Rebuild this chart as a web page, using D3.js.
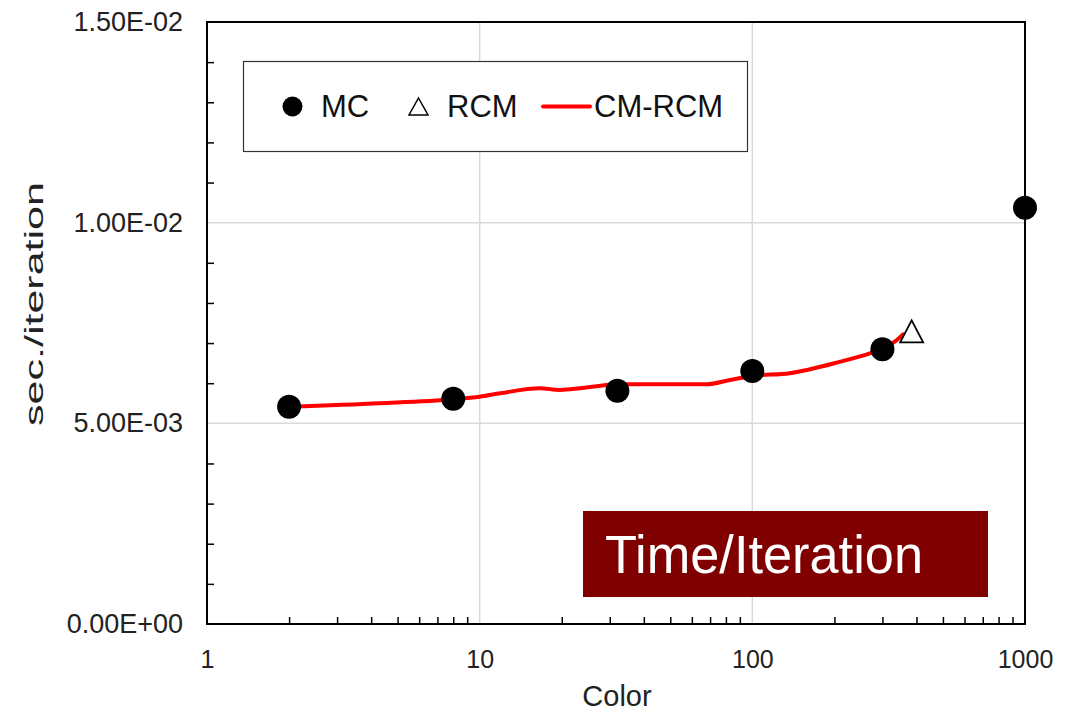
<!DOCTYPE html>
<html>
<head>
<meta charset="utf-8">
<script src="https://cdn.jsdelivr.net/npm/d3@7"></script>
<style>
  html, body { margin: 0; padding: 0; background: #fff; }
  svg { display: block; font-family: "Liberation Sans", Arial, Helvetica, sans-serif; }
</style>
</head>
<body>
<svg id="chart" width="1075" height="713"></svg>
<script>
// ---- data ----
const mcColors = [2, 8, 32, 100, 300, 1000];
const mcTimes  = [0.005415, 0.005614, 0.005813, 0.006304, 0.006845, 0.010373];

const rcmColors = [384];
const rcmTimes  = [0.00729];

const cmColors = [2, 4.3, 8, 10, 11.9, 16.6, 19.7, 23.3, 29.3, 32, 45.8, 68, 82.7, 100, 137, 210, 270, 300, 339, 357];
const cmTimes  = [0.005415, 0.005499, 0.005599, 0.005664, 0.005748, 0.005873, 0.005831, 0.005873, 0.005955, 0.005973,
                  0.005973, 0.005973, 0.006080, 0.006180, 0.006250, 0.006536, 0.006745, 0.006852, 0.007076, 0.007218];

const xTickValues = [1, 10, 100, 1000];
const yTickValues = [0, 0.005, 0.010, 0.015];
const legendLabels = ["MC", "RCM", "CM-RCM"];
const xTitle = "Color";
const yTitle = "sec./iteration";
const badgeText = "Time/Iteration";

// ---- layout ----
const svg = d3.select("#chart");
const L = 207, R = 1025, T = 22, B = 624;
const x = d3.scaleLog().domain([1, 1000]).range([L, R]);
const y = d3.scaleLinear().domain([0, 0.015]).range([B, T]);

function fmtE(v) {
  const [m, e] = v.toExponential(2).split("e");
  const sign = e[0] === "-" ? "-" : "+";
  const d = e.replace(/[+-]/, "").padStart(2, "0");
  return m + "E" + sign + d;
}

// gridlines
const grid = svg.append("g");
grid.selectAll("line.gx").data([10, 100]).join("line")
  .attr("x1", d => x(d)).attr("x2", d => x(d)).attr("y1", T).attr("y2", B)
  .attr("stroke", "#d9d9d9").attr("stroke-width", 1.5);
grid.selectAll("line.gy").data([0.005, 0.010]).join("line")
  .attr("x1", L).attr("x2", R).attr("y1", d => y(d)).attr("y2", d => y(d))
  .attr("stroke", "#d9d9d9").attr("stroke-width", 1.5);

// minor ticks
const yMinor = d3.range(1, 15).filter(i => i % 5 !== 0).map(i => i * 0.001);
const gyMinor = svg.append("g").attr("transform", `translate(${L},0)`)
  .call(d3.axisLeft(y).tickValues(yMinor).tickSize(-7).tickFormat(""));
gyMinor.select(".domain").remove();
gyMinor.selectAll("line").attr("stroke", "#000").attr("stroke-width", 1.5);

const xMinor = [];
[1, 10, 100].forEach(dec => { for (let k = 2; k <= 9; k++) xMinor.push(k * dec); });
const gxMinor = svg.append("g").attr("transform", `translate(0,${B})`)
  .call(d3.axisBottom(x).tickValues(xMinor).tickSize(-7).tickFormat(""));
gxMinor.select(".domain").remove();
gxMinor.selectAll("line").attr("stroke", "#000").attr("stroke-width", 1.5);

// tick labels
const gyLab = svg.append("g").attr("transform", `translate(${L},0)`)
  .call(d3.axisLeft(y).tickValues(yTickValues).tickSize(0).tickPadding(24).tickFormat(fmtE));
gyLab.select(".domain").remove();
gyLab.selectAll("text").attr("font-size", 27).attr("fill", "#222").attr("font-family", null);

const gxLab = svg.append("g").attr("transform", `translate(0,${B})`)
  .call(d3.axisBottom(x).tickValues(xTickValues).tickSize(0).tickPadding(26).tickFormat(d3.format("d")));
gxLab.select(".domain").remove();
gxLab.selectAll("text").attr("font-size", 25).attr("fill", "#222").attr("font-family", null);

// plot border
svg.append("rect").attr("x", L).attr("y", T).attr("width", R - L).attr("height", B - T)
  .attr("fill", "none").attr("stroke", "#000").attr("stroke-width", 2);

// axis titles
svg.append("text").attr("x", 617).attr("y", 706).attr("text-anchor", "middle")
  .attr("font-size", 29).attr("fill", "#222").text(xTitle);
svg.append("text").attr("transform", "translate(43,304) rotate(-90)").attr("text-anchor", "middle")
  .attr("font-size", 25).attr("fill", "#222")
  .attr("textLength", 244).attr("lengthAdjust", "spacingAndGlyphs").text(yTitle);

// CM-RCM line
const cmData = cmColors.map((c, i) => ({ c, t: cmTimes[i] }));
svg.append("path").datum(cmData)
  .attr("fill", "none").attr("stroke", "#ff0000").attr("stroke-width", 4)
  .attr("stroke-linejoin", "round").attr("stroke-linecap", "round")
  .attr("d", d3.line().x(d => x(d.c)).y(d => y(d.t)).curve(d3.curveMonotoneX));

// MC dots
svg.append("g").selectAll("circle").data(mcColors.map((c, i) => ({ c, t: mcTimes[i] }))).join("circle")
  .attr("cx", d => x(d.c)).attr("cy", d => y(d.t)).attr("r", 12).attr("fill", "#000");

// RCM triangles
function tri(cx, cy, w, h) {
  return `M${cx},${cy - h / 2}L${cx + w / 2},${cy + h / 2}L${cx - w / 2},${cy + h / 2}Z`;
}
svg.append("g").selectAll("path").data(rcmColors.map((c, i) => ({ c, t: rcmTimes[i] }))).join("path")
  .attr("d", d => tri(x(d.c), y(d.t), 23, 22))
  .attr("fill", "#fff").attr("stroke", "#000").attr("stroke-width", 1.8).attr("stroke-linejoin", "miter");

// legend
const lg = svg.append("g");
lg.append("rect").attr("x", 243.5).attr("y", 61.5).attr("width", 504).attr("height", 90)
  .attr("fill", "#fff").attr("stroke", "#333").attr("stroke-width", 1.2);
const ly = 106.5;
lg.append("circle").attr("cx", 292.5).attr("cy", ly).attr("r", 10).attr("fill", "#000");
lg.append("path").attr("d", tri(418.5, ly, 19, 17)).attr("fill", "#fff").attr("stroke", "#000").attr("stroke-width", 1.5);
lg.append("line").attr("x1", 543).attr("x2", 590).attr("y1", ly).attr("y2", ly)
  .attr("stroke", "#ff0000").attr("stroke-width", 4).attr("stroke-linecap", "round");
const lx = [321, 447, 594];
lg.selectAll("text").data(legendLabels).join("text")
  .attr("x", (d, i) => lx[i]).attr("y", 117).attr("font-size", 31).attr("fill", "#111").text(d => d);

// badge
svg.append("rect").attr("x", 583).attr("y", 511).attr("width", 405).attr("height", 86).attr("fill", "#800000");
svg.append("text").attr("x", 605).attr("y", 573).attr("font-size", 54).attr("fill", "#fff")
  .attr("textLength", 318).attr("lengthAdjust", "spacingAndGlyphs").text(badgeText);
</script>
</body>
</html>
